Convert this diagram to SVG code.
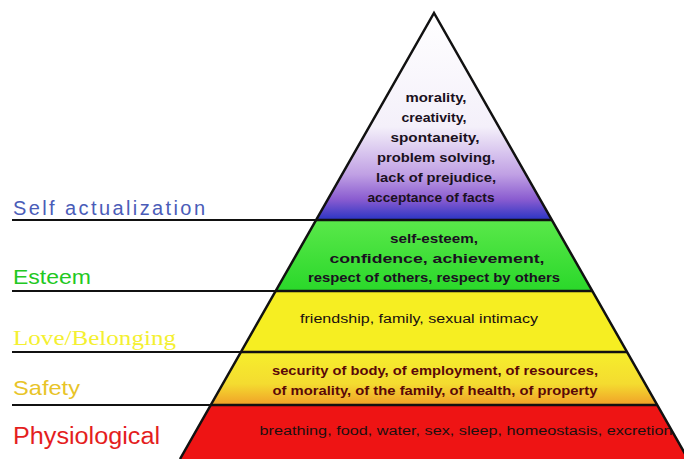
<svg xmlns="http://www.w3.org/2000/svg" width="684" height="459" viewBox="0 0 684 459">
<defs>
<linearGradient id="gTop" x1="0" y1="13" x2="0" y2="220" gradientUnits="userSpaceOnUse">
<stop offset="0" stop-color="#ffffff"/>
<stop offset="0.55" stop-color="#f4f0fa"/>
<stop offset="0.78" stop-color="#c0a0e4"/>
<stop offset="0.9" stop-color="#8a5cd0"/>
<stop offset="1" stop-color="#2a34c4"/>
</linearGradient>
<linearGradient id="gSafe" x1="0" y1="352" x2="0" y2="405" gradientUnits="userSpaceOnUse">
<stop offset="0" stop-color="#f6ee2c"/>
<stop offset="0.6" stop-color="#f4dc30"/>
<stop offset="1" stop-color="#f0a028"/>
</linearGradient>
<linearGradient id="gGreen" x1="0" y1="220" x2="0" y2="291" gradientUnits="userSpaceOnUse">
<stop offset="0" stop-color="#5ae84a"/>
<stop offset="1" stop-color="#2ad82a"/>
</linearGradient>
</defs>
<style>
.edge{fill:none;stroke:#111;stroke-width:2.5;stroke-linejoin:miter}
.conn{stroke:#111;stroke-width:2.2}
.pt{font-family:"Liberation Sans",Arial,sans-serif;font-size:13px;font-weight:bold;fill:#1a1020;text-anchor:middle}
.sf{fill:#5a0808}
.pr{font-family:"Liberation Sans",Arial,sans-serif;font-size:12.5px;fill:#1a1010;text-anchor:middle}
.lab{font-family:"Liberation Sans",Arial,sans-serif}
</style>
<rect width="684" height="459" fill="#ffffff"/>

<g id="tier-self-actualization">
<polygon points="434,13 551.9,220 316.1,220" fill="url(#gTop)"/>
<text class="pt" x="436" y="102" textLength="61" lengthAdjust="spacingAndGlyphs">morality,</text>
<text class="pt" x="434" y="122" textLength="65" lengthAdjust="spacingAndGlyphs">creativity,</text>
<text class="pt" x="435" y="142" textLength="89" lengthAdjust="spacingAndGlyphs">spontaneity,</text>
<text class="pt" x="436" y="162" textLength="118" lengthAdjust="spacingAndGlyphs">problem solving,</text>
<text class="pt" x="436" y="182" textLength="120" lengthAdjust="spacingAndGlyphs">lack of prejudice,</text>
<text class="pt" x="431" y="202" textLength="127" lengthAdjust="spacingAndGlyphs">acceptance of facts</text>
</g>

<g id="tier-esteem">
<polygon points="316.1,220 551.9,220 592.3,291 275.7,291" fill="url(#gGreen)"/>
<text class="pt" x="434" y="243" textLength="88" lengthAdjust="spacingAndGlyphs">self-esteem,</text>
<text class="pt" x="437" y="263" textLength="215" lengthAdjust="spacingAndGlyphs">confidence, achievement,</text>
<text class="pt" x="434" y="282" textLength="252" lengthAdjust="spacingAndGlyphs">respect of others, respect by others</text>
</g>

<g id="tier-love-belonging">
<polygon points="275.7,291 592.3,291 627.1,352 240.9,352" fill="#f6ee22"/>
<text class="pr" x="419" y="323" textLength="238" lengthAdjust="spacingAndGlyphs">friendship, family, sexual intimacy</text>
</g>

<g id="tier-safety">
<polygon points="240.9,352 627.1,352 657.2,405 210.8,405" fill="url(#gSafe)"/>
<text class="pt sf" x="435" y="375" textLength="326" lengthAdjust="spacingAndGlyphs">security of body, of employment, of resources,</text>
<text class="pt sf" x="435" y="395" textLength="325" lengthAdjust="spacingAndGlyphs">of morality, of the family, of health, of property</text>
</g>

<g id="tier-physiological">
<polygon points="210.8,405 657.2,405 688,459 180,459" fill="#ee1414"/>
<text class="pr" x="466" y="435" textLength="413" lengthAdjust="spacingAndGlyphs">breathing, food, water, sex, sleep, homeostasis, excretion</text>
</g>

<g id="pyramid-outline">
<path class="edge" d="M180,459 L434,13 L688,459"/>
<line class="edge" x1="316.1" y1="220" x2="551.9" y2="220"/>
<line class="edge" x1="275.7" y1="291" x2="592.3" y2="291"/>
<line class="edge" x1="240.9" y1="352" x2="627.1" y2="352"/>
<line class="edge" x1="210.8" y1="405" x2="657.2" y2="405"/>
</g>

<g id="connectors">
<line class="conn" x1="12" y1="220" x2="316" y2="220"/>
<line class="conn" x1="12" y1="291" x2="276" y2="291"/>
<line class="conn" x1="12" y1="352" x2="241" y2="352"/>
<line class="conn" x1="12" y1="405" x2="211" y2="405"/>
</g>

<g id="label-self-actualization">
<text class="lab" x="13" y="215" font-size="20" fill="#4a5cb8" textLength="192" lengthAdjust="spacing">Self actualization</text>
</g>
<g id="label-esteem">
<text class="lab" x="13" y="284" font-size="21" fill="#22c822" textLength="78" lengthAdjust="spacingAndGlyphs">Esteem</text>
</g>
<g id="label-love-belonging">
<text x="13" y="345" font-family="'Liberation Serif','Times New Roman',serif" font-size="21" fill="#f4f030" textLength="163" lengthAdjust="spacingAndGlyphs">Love/Belonging</text>
</g>
<g id="label-safety">
<text class="lab" x="13" y="395" font-size="21" fill="#e8c428" textLength="67" lengthAdjust="spacingAndGlyphs">Safety</text>
</g>
<g id="label-physiological">
<text class="lab" x="13" y="444" font-size="23" fill="#e41e1e" textLength="147" lengthAdjust="spacingAndGlyphs">Physiological</text>
</g>
</svg>
